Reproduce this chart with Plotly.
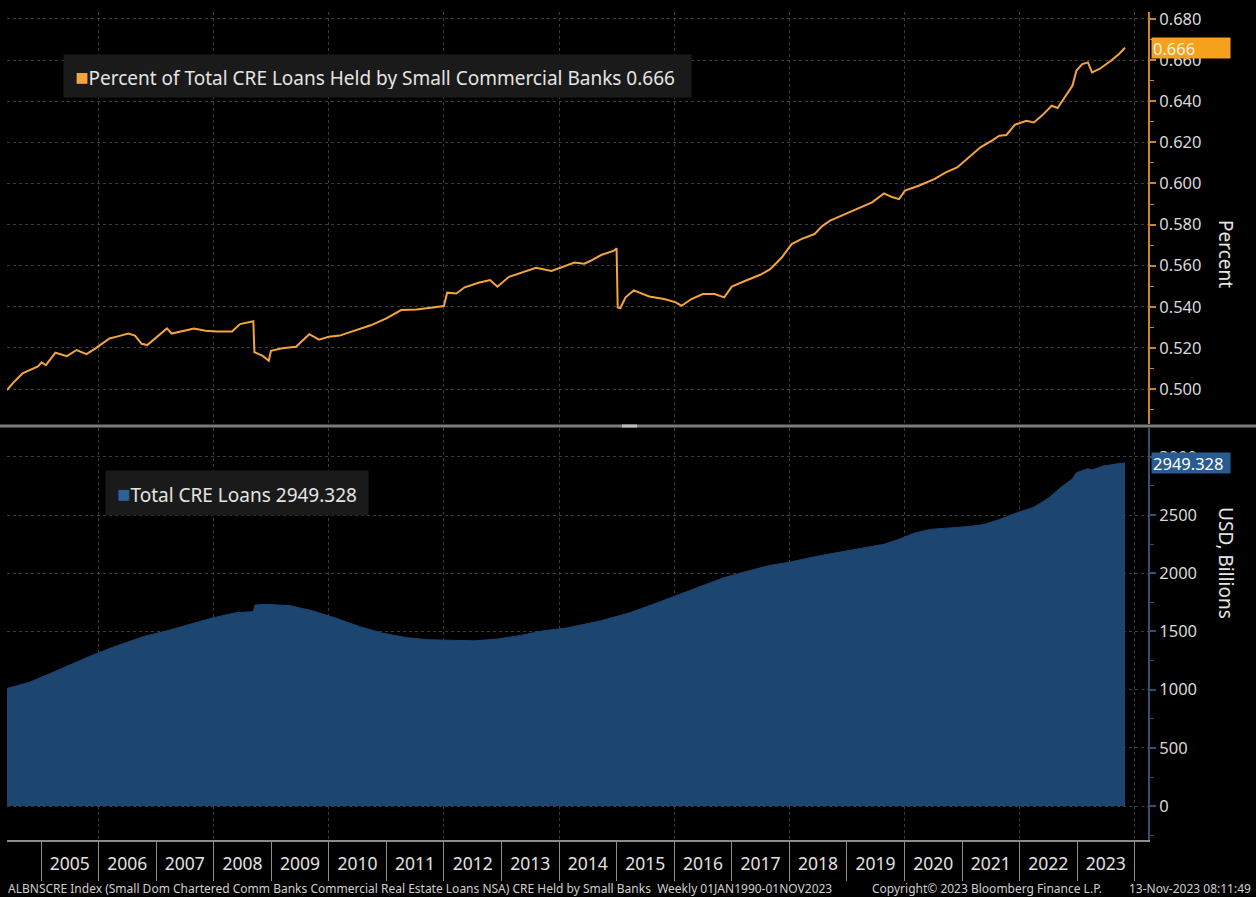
import plotly.graph_objects as go

# ---------------- data ----------------
pct_dates = [
    "2004-05-30", "2004-07-08", "2004-09-05", "2004-10-12", "2004-12-13", "2005-01-05",
    "2005-02-01", "2005-04-02", "2005-06-14", "2005-08-15", "2005-10-16", "2005-12-13",
    "2006-03-11", "2006-04-27", "2006-07-09", "2006-08-20", "2006-10-01", "2006-11-06",
    "2006-12-28", "2007-03-11", "2007-04-10", "2007-06-18", "2007-08-29", "2007-11-10",
    "2008-01-23", "2008-04-27", "2008-06-17", "2008-09-09", "2008-09-16", "2008-11-10",
    "2008-12-16", "2008-12-30", "2009-03-12", "2009-06-07", "2009-08-30", "2009-10-31",
    "2010-01-01", "2010-03-11", "2010-06-18", "2010-09-24", "2011-01-01", "2011-04-05",
    "2011-07-13", "2011-10-19", "2012-01-01", "2012-01-22", "2012-03-20", "2012-05-12",
    "2012-08-08", "2012-10-20", "2012-12-06", "2013-02-17", "2013-05-01", "2013-08-08",
    "2013-11-14", "2014-01-26", "2014-04-09", "2014-06-10", "2014-07-20", "2014-09-25",
    "2014-12-16", "2015-01-01", "2015-01-08", "2015-01-25", "2015-02-27", "2015-04-20",
    "2015-07-27", "2015-10-30", "2016-01-12", "2016-02-17", "2016-04-20", "2016-07-01",
    "2016-09-13", "2016-11-14", "2017-01-01", "2017-03-29", "2017-07-01", "2017-09-02",
    "2017-11-14", "2018-01-16", "2018-03-18", "2018-06-10", "2018-07-31", "2018-09-17",
    "2018-12-24", "2019-03-28", "2019-06-10", "2019-08-25", "2019-10-10", "2019-11-28",
    "2020-01-05", "2020-04-01", "2020-07-09", "2020-09-20", "2020-12-01", "2021-02-14",
    "2021-04-28", "2021-07-09", "2021-08-26", "2021-10-10", "2021-12-03", "2022-02-14",
    "2022-04-02", "2022-05-23", "2022-07-24", "2022-08-30", "2022-10-16", "2022-12-03",
    "2022-12-28", "2023-02-03", "2023-03-11", "2023-04-06", "2023-05-23", "2023-08-04",
    "2023-09-24", "2023-11-01",
]
pct_values = [
    0.4995, 0.5030, 0.5076, 0.5090, 0.5110, 0.5130,
    0.5116, 0.5177, 0.5160, 0.5190, 0.5170, 0.5198,
    0.5246, 0.5255, 0.5270, 0.5260, 0.5220, 0.5214,
    0.5246, 0.5295, 0.5270, 0.5284, 0.5295, 0.5284,
    0.5280, 0.5280, 0.5316, 0.5330, 0.5180, 0.5160,
    0.5138, 0.5186, 0.5198, 0.5206, 0.5267, 0.5240,
    0.5255, 0.5260, 0.5287, 0.5310, 0.5344, 0.5384,
    0.5387, 0.5397, 0.5404, 0.5469, 0.5465, 0.5495,
    0.5517, 0.5530, 0.5498, 0.5546, 0.5566, 0.5590,
    0.5574, 0.5595, 0.5615, 0.5610, 0.5624, 0.5652,
    0.5673, 0.5685, 0.5397, 0.5394, 0.5446, 0.5480,
    0.5450, 0.5438, 0.5422, 0.5405, 0.5438, 0.5462,
    0.5462, 0.5446, 0.5498, 0.5527, 0.5556, 0.5583,
    0.5640, 0.5705, 0.5729, 0.5754, 0.5794, 0.5819,
    0.5851, 0.5884, 0.5908, 0.5952, 0.5935, 0.5924,
    0.5965, 0.5989, 0.6021, 0.6054, 0.6078, 0.6127,
    0.6176, 0.6208, 0.6232, 0.6236, 0.6286, 0.6305,
    0.6297, 0.6330, 0.6378, 0.6367, 0.6419, 0.6476,
    0.6549, 0.6581, 0.6589, 0.6540, 0.6557, 0.6597,
    0.6630, 0.6660,
]

cre_dates = [
    "2004-05-30", "2004-10-12", "2005-03-11", "2005-06-14", "2005-11-06", "2006-04-01",
    "2006-08-25", "2006-10-15", "2007-03-11", "2007-08-04", "2008-01-01", "2008-05-23",
    "2008-09-09", "2008-09-20", "2008-12-02", "2009-05-01", "2009-09-24", "2010-02-17",
    "2010-07-13", "2010-12-06", "2011-05-01", "2011-09-24", "2012-02-17", "2012-07-13",
    "2012-12-06", "2013-05-01", "2013-09-24", "2014-02-17", "2014-09-20", "2015-03-25",
    "2015-09-13", "2016-01-12", "2016-06-07", "2016-11-03", "2017-03-29", "2017-08-22",
    "2018-01-16", "2018-06-10", "2018-11-03", "2019-03-28", "2019-08-25", "2019-11-28",
    "2020-03-07", "2020-06-14", "2020-11-06", "2021-02-14", "2021-05-20", "2021-08-26",
    "2021-12-24", "2022-04-02", "2022-07-09", "2022-09-20", "2022-12-03", "2022-12-28",
    "2023-03-11", "2023-04-06", "2023-06-14", "2023-08-26", "2023-11-01",
]
cre_values = [
    1011, 1060, 1145, 1202, 1287, 1364,
    1437, 1457, 1506, 1562, 1619, 1662,
    1670, 1727, 1733, 1722, 1676, 1614,
    1543, 1486, 1449, 1429, 1423, 1420,
    1435, 1466, 1506, 1530, 1591, 1660,
    1745, 1807, 1887, 1958, 2014, 2065,
    2099, 2142, 2178, 2212, 2249, 2292,
    2346, 2377, 2391, 2402, 2419, 2462,
    2524, 2567, 2652, 2737, 2813, 2864,
    2898, 2887, 2921, 2935, 2949.328,
]

years = list(range(2005, 2024))
year_labels = [str(y) for y in years]
year_starts = [f"{y}-01-01" for y in range(2005, 2025)]
year_mids = [f"{y}-07-02" for y in years]
grid_years = [f"{y}-01-01" for y in range(2006, 2025, 2)]

pct_name = "Percent of Total CRE Loans Held by Small Commercial Banks"
cre_name = "Total CRE Loans"
footer_left = ("ALBNSCRE Index (Small Dom Chartered Comm Banks Commercial Real Estate Loans NSA) "
               "CRE Held by Small Banks  Weekly 01JAN1990-01NOV2023")
footer_mid = "Copyright\u00a9 2023 Bloomberg Finance L.P."
footer_right = "13-Nov-2023 08:11:49"

# ---------------- styles ----------------
ORANGE = "#f3a43c"
ORANGE_AX = "#c9852c"
BLUE = "#1c4570"
BLUE_BADGE = "#285b8f"
BLUE_AX = "#34506f"
GRID = "#3c3c3c"
TXT = "#d9d9d9"
FONT = "Noto Sans"
x_range = ["2004-05-30", "2024-03-26"]

W, H = 1256, 897
L, R, T, B = 7, 108, 8, 57
PW, PH = W - L - R, H - T - B


def px_x(x):
    return (x - L) / PW


def px_y(y):
    return (H - B - y) / PH


fig = go.Figure()
fig.add_trace(go.Scatter(x=pct_dates, y=pct_values, mode="lines",
                         line=dict(color=ORANGE, width=2), xaxis="x", yaxis="y",
                         hoverinfo="skip"))
fig.add_trace(go.Scatter(x=cre_dates, y=cre_values, mode="lines", fill="tozeroy",
                         fillcolor=BLUE, line=dict(color=BLUE, width=1),
                         xaxis="x2", yaxis="y2", hoverinfo="skip"))
# helper traces so that the overlaying date axes (separators / year labels) render
for ax in ("x3", "x4"):
    fig.add_trace(go.Scatter(x=cre_dates, y=cre_values, mode="lines", opacity=0,
                             line=dict(width=0), xaxis=ax, yaxis="y2", hoverinfo="skip"))

top_dom = [px_y(422), 1]
bot_dom = [0, px_y(426)]

common_x = dict(type="date", range=x_range, zeroline=False)

fig.update_layout(
    width=W, height=H,
    paper_bgcolor="black", plot_bgcolor="black",
    margin=dict(l=L, r=R, t=T, b=B),
    showlegend=False,
    font=dict(family=FONT, color=TXT),
    xaxis=dict(**common_x, domain=[0, 1], anchor="y", tickvals=grid_years,
               showticklabels=False, ticks="", showgrid=True, gridcolor=GRID,
               griddash="dot", gridwidth=1, showline=False),
    yaxis=dict(domain=top_dom, anchor="x", side="right", range=[0.483, 0.6834],
               tick0=0.5, dtick=0.02, tickformat=".3f",
               ticks="outside", ticklen=6, tickwidth=2, tickcolor=ORANGE_AX,
               showline=True, linecolor=ORANGE_AX, linewidth=2,
               showgrid=True, gridcolor=GRID, griddash="dot", gridwidth=1,
               minor=dict(ticks="outside", ticklen=4, tickwidth=1, tickcolor=ORANGE_AX,
                          tick0=0.5, dtick=0.01, showgrid=False),
               tickfont=dict(size=16.5, color=TXT, family=FONT), zeroline=False),
    xaxis2=dict(**common_x, domain=[0, 1], anchor="y2", tickvals=grid_years,
                showticklabels=False, ticks="", showgrid=True, gridcolor=GRID,
                griddash="dot", gridwidth=1, showline=True, linecolor="#8c8c8c",
                linewidth=2),
    xaxis3=dict(**common_x, overlaying="x2", anchor="y2", side="bottom",
                tickvals=year_starts, ticktext=[""] * len(year_starts),
                ticks="outside", ticklen=40, tickwidth=1, tickcolor="#8c8c8c",
                showgrid=False, showline=False),
    xaxis4=dict(**common_x, overlaying="x2", anchor="y2", side="bottom",
                tickvals=year_mids, ticktext=year_labels, ticks="",
                showgrid=False, showline=False, ticklabelstandoff=11,
                tickfont=dict(size=17.5, color="#e2e2e2", family=FONT)),
    yaxis2=dict(domain=bot_dom, anchor="x2", side="right", range=[-291, 3248],
                tick0=0, dtick=500, ticks="outside", ticklen=6, tickwidth=2,
                tickcolor=BLUE_AX, showline=True, linecolor=BLUE_AX, linewidth=2,
                showgrid=True, gridcolor=GRID, griddash="dot", gridwidth=1,
                minor=dict(ticks="outside", ticklen=4, tickwidth=1, tickcolor=BLUE_AX,
                           tick0=0, dtick=250, showgrid=False),
                tickfont=dict(size=16.5, color=TXT, family=FONT), zeroline=False),
)

# panel divider
fig.add_shape(type="line", xref="paper", yref="paper", x0=px_x(0), x1=px_x(W),
              y0=px_y(424), y1=px_y(424), line=dict(color="#7c7c7c", width=3))
fig.add_shape(type="line", xref="paper", yref="paper", x0=px_x(622), x1=px_x(637),
              y0=px_y(424), y1=px_y(424), line=dict(color="#bdbdbd", width=3))

# legend boxes
fig.add_annotation(xref="paper", yref="paper", x=px_x(63), y=px_y(50),
                   xanchor="left", yanchor="top", align="left", showarrow=False,
                   text=(f"\u2009<span style='color:{ORANGE};font-size:22px'>\u25a0</span>"
                         f"{pct_name} {pct_values[-1]:.3f}"),
                   font=dict(size=19, color="#e4e4e4", family=FONT),
                   bgcolor="#1a1a1a", borderpad=8, width=611, height=26)
fig.add_annotation(xref="paper", yref="paper", x=px_x(105), y=px_y(468),
                   xanchor="left", yanchor="top", align="left", showarrow=False,
                   text=(f"\u2009<span style='color:#2d6299;font-size:22px'>\u25a0</span>"
                         f"{cre_name} {cre_values[-1]:.3f}"),
                   font=dict(size=19, color="#e4e4e4", family=FONT),
                   bgcolor="#1a1a1a", borderpad=8, width=246, height=28)

# last-value badges
fig.add_annotation(xref="paper", yref="y", x=1, y=pct_values[-1], xanchor="left",
                   yanchor="middle", xshift=3, showarrow=False, align="left",
                   text=f"{pct_values[-1]:.3f}", bgcolor="#f5a11c",
                   font=dict(size=16.5, color="#f4eee6", family=FONT),
                   borderpad=1, width=76, height=18)
fig.add_annotation(xref="paper", yref="y2", x=1, y=cre_values[-1], xanchor="left",
                   yanchor="middle", xshift=3, showarrow=False, align="left",
                   text=f"{cre_values[-1]:.3f}", bgcolor=BLUE_BADGE,
                   font=dict(size=16.5, color="#ffffff", family=FONT),
                   borderpad=1, width=76, height=18)

# axis titles (reading top-to-bottom)
fig.add_annotation(xref="paper", yref="paper", x=px_x(1241), y=px_y(215),
                   text="Percent", textangle=90, showarrow=False,
                   font=dict(size=19, color="#e4e4e4", family=FONT))
fig.add_annotation(xref="paper", yref="paper", x=px_x(1241), y=px_y(620),
                   text="USD, Billions", textangle=90, showarrow=False,
                   font=dict(size=19, color="#e4e4e4", family=FONT))

# footer
fig.add_annotation(xref="paper", yref="paper", x=px_x(6), y=px_y(889), xanchor="left",
                   yanchor="middle", showarrow=False, text=footer_left,
                   font=dict(size=12, color="#cfcfcf", family=FONT))
fig.add_annotation(xref="paper", yref="paper", x=px_x(870), y=px_y(889), xanchor="left",
                   yanchor="middle", showarrow=False, text=footer_mid,
                   font=dict(size=12, color="#cfcfcf", family=FONT))
fig.add_annotation(xref="paper", yref="paper", x=px_x(1253), y=px_y(889), xanchor="right",
                   yanchor="middle", showarrow=False, text=footer_right,
                   font=dict(size=12, color="#cfcfcf", family=FONT))

fig.write_html(
    "out.html",
    config={"displayModeBar": False},
    post_script=("document.body.style.margin='0';"
                 "document.body.style.background='black';"
                 "document.body.style.overflow='hidden';"),
)
